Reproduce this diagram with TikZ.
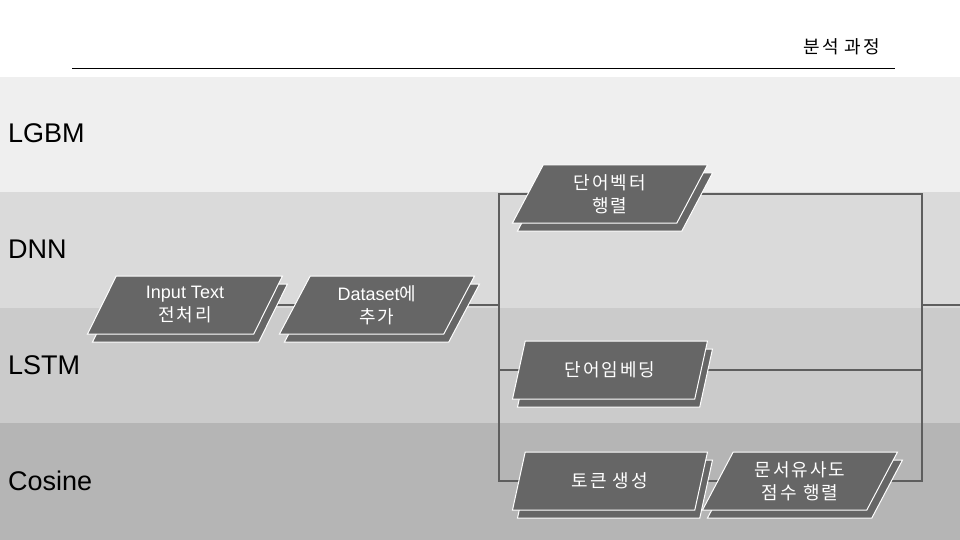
\documentclass[tikz,border=0pt]{standalone}
\usepackage{fontspec}
\setmainfont{Liberation Sans}
\newfontfamily\kr[LetterSpace=11]{Noto Sans CJK KR}
\usetikzlibrary{shapes.geometric,shadows}
\pgfdeclarelayer{bands}
\pgfdeclarelayer{lines}
\pgfsetlayers{bands,lines,main}
\definecolor{bandA}{HTML}{EFEFEF}
\definecolor{bandB}{HTML}{DADADA}
\definecolor{bandC}{HTML}{CBCBCB}
\definecolor{bandD}{HTML}{B5B5B5}
\definecolor{boxfill}{HTML}{666666}
\definecolor{linecol}{HTML}{5E5E5E}
\begin{document}
\begin{tikzpicture}[x=1pt,y=-1pt,
  para/.style={trapezium, trapezium left angle=52, trapezium right angle=128,
    trapezium stretches body, minimum width=195pt, minimum height=58pt,
    fill=boxfill, draw=white, line width=1pt, text=white,
    font=\fontsize{18}{23}\selectfont, align=center, inner sep=0pt,
    copy shadow={shadow xshift=5pt, shadow yshift=-8pt, fill=boxfill, draw=white}},
  lane/.style={anchor=west, font=\fontsize{27}{30}\selectfont, text=black, inner sep=0pt},
  conn/.style={draw=linecol, line width=2pt}]
\useasboundingbox (0,0) rectangle (960,540);
\begin{pgfonlayer}{bands}
  \fill[white] (0,0) rectangle (960,77);
  \fill[bandA] (0,77) rectangle (960,192);
  \fill[bandB] (0,192) rectangle (960,308);
  \fill[bandC] (0,308) rectangle (960,423);
  \fill[bandD] (0,423) rectangle (960,540);
\end{pgfonlayer}
\draw[black, line width=1pt] (72,69) -- (895,69);
\node[anchor=east, font=\kr\fontsize{18}{20}\selectfont, text=black, inner sep=0pt] (title) at (880,47) {분석 과정};
\node[lane] (lgbm) at (8,133) {LGBM};
\node[lane] (dnn) at (8,249) {DNN};
\node[lane] (lstm) at (8,365) {LSTM};
\node[lane] (cos) at (8,481) {Cosine};

\node[para] (inp) at (185,305) {Input Text\\{\kr 전처리}};
\node[para] (ds) at (377,305) {Dataset{\kr 에}\\{\kr 추가}};
\node[para] (wv) at (610,194) {\kr 단어벡터\\\kr 행렬};
\node[para] (emb) at (610,370) {\kr 단어임베딩};
\node[para] (tok) at (610,481) {\kr 토큰 생성};
\node[para] (doc) at (800,481) {\kr 문서유사도\\\kr 점수 행렬};
\coordinate (j1) at (499,305);
\coordinate (j2) at (922,305);
\coordinate (out) at (960,305);
\begin{pgfonlayer}{lines}
  \draw[conn] (inp.center) -- (ds.center) -- (j1);
  \draw[conn] (j1) |- (wv.center);
  \draw[conn] (j1) |- (emb.center);
  \draw[conn] (j1) |- (tok.center);
  \draw[conn] (wv.center) -| (j2);
  \draw[conn] (emb.center) -| (j2);
  \draw[conn] (tok.center) -- (doc.center);
  \draw[conn] (doc.center) -| (j2);
  \draw[conn] (j2) -- (out);
\end{pgfonlayer}
\end{tikzpicture}
\end{document}
